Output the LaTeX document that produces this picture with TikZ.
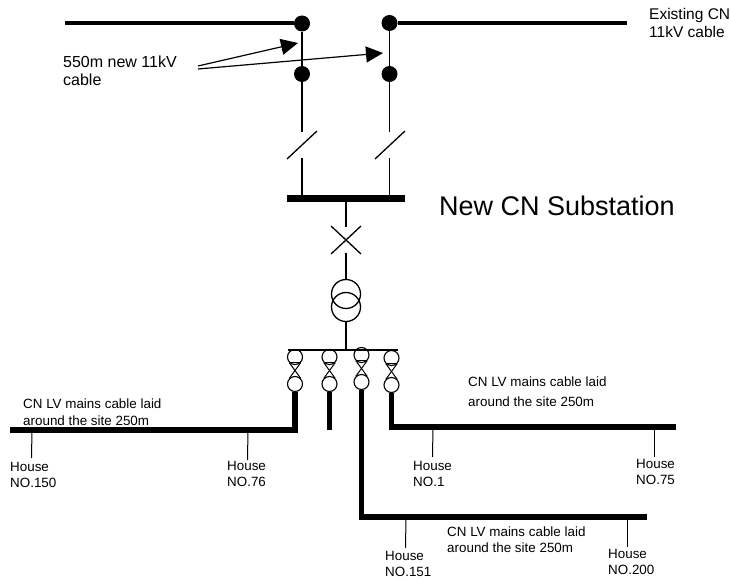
\documentclass[tikz,border=0pt]{standalone}
\usepackage{fontspec}
\setmainfont{Liberation Sans}
\usepackage{tikz}
\usetikzlibrary{arrows.meta,positioning}
\tikzset{
	junction/.style={circle,fill=black,inner sep=0pt,minimum size=16pt},
	fuseend/.style={circle,draw=black,line width=1.1pt,fill=white,inner sep=0pt,minimum size=15pt},
	winding/.style={circle,draw=black,line width=1.3pt,inner sep=0pt,minimum size=29pt},
	note/.style={align=left,inner sep=0pt,anchor=west,font=\fontsize{13.4}{16}\selectfont},
	wire/.style={draw,line width=1.3pt},
	drop/.style={draw,line width=1pt},
	hvline/.style={draw,line width=4pt},
	mains/.style={draw,line width=5.5pt},
	bar/.style={draw,line width=7pt},
	pointer/.style={draw,line width=1.2pt,-{Triangle[length=17pt,width=16pt]}}
}
\begin{document}
\begin{tikzpicture}[x=1pt,y=-1pt]
\useasboundingbox (0,0) rectangle (731,580);
% 11kV side
\node[junction](J1) at (302,23.5){};
\node[junction](J2) at (389.5,23){};
\node[junction](J3) at (302,74){};
\node[junction](J4) at (389.5,74){};
\coordinate (HVL) at (65,23.5);
\coordinate (HVR) at (627,23);
\path[hvline] (HVL) -- (J1);
\path[hvline] (J2) -- (HVR);
\path[wire] (J1) -- (J3);
\path[wire] (J2) -- (J4);
% switches
\coordinate (S1T) at (302,132);
\coordinate (S1B) at (302,158);
\coordinate (S2T) at (389.5,132);
\coordinate (S2B) at (389.5,158);
\coordinate (B1) at (302,199);
\coordinate (B2) at (389.5,199);
\coordinate (D1) at (287,159);
\coordinate (D2) at (317,131);
\coordinate (D3) at (375,159);
\coordinate (D4) at (405,131);
\path[wire] (J3) -- (S1T);
\path[wire] (J4) -- (S2T);
\path[wire] (D1) -- (D2);
\path[wire] (D3) -- (D4);
\path[wire] (S1B) -- (B1);
\path[wire] (S2B) -- (B2);
% busbar
\coordinate (BL) at (287,199);
\coordinate (BR) at (405,199);
\path[bar] (BL) -- (BR);
% breaker
\coordinate (BM) at (346,199);
\coordinate (X1) at (346,227);
\coordinate (X2) at (346,253);
\coordinate (C1) at (331,226);
\coordinate (C2) at (361,254);
\coordinate (C3) at (361,226);
\coordinate (C4) at (331,254);
\path[wire] (BM) -- (X1);
\path[wire] (C1) -- (C2);
\path[wire] (C3) -- (C4);
% transformer
\node[winding](T1) at (346,294){};
\node[winding](T2) at (346,307){};
\coordinate (LM) at (346,350);
\path[wire] (X2) -- (T1);
\path[wire] (T2) -- (LM);
% LV board
\coordinate (LL) at (288,350);
\coordinate (LR) at (398,350);
\foreach \name/\x/\ya/\yb in {A/295/357/384,B/329.5/357/384,C/361.5/355/382,E/391.5/358/385}{
	\node[fuseend](\name1) at (\x,\ya){};
	\node[fuseend](\name2) at (\x,\yb){};
	\path[drop] (\name1.south west) -- (\name2.north east);
	\path[drop] (\name1.south east) -- (\name2.north west);
	\path[drop] (\name1.south west) -- (\name1.south east);
}
\path[draw,line width=2pt] (LL) -- (LR);
% LV mains
\coordinate (M1) at (295,430);
\coordinate (M1E) at (10,430);
\coordinate (M2) at (329.5,430);
\coordinate (M3) at (361.5,517);
\coordinate (M3E) at (647,517);
\coordinate (M4) at (391.5,427);
\coordinate (M4E) at (676,427);
\path[mains] (A2) -- (M1) -- (M1E);
\path[mains] (B2) -- (M2);
\path[mains] (C2) -- (M3) -- (M3E);
\path[mains] (E2) -- (M4) -- (M4E);
% houses
\node[note](H150) at (10,475){House\\NO.150};
\node[note](H76) at (227,474){House\\NO.76};
\node[note](H1) at (413,473.5){House\\NO.1};
\node[note](H75) at (636,471.5){House\\NO.75};
\node[note](H151) at (385,564){House\\NO.151};
\node[note](H200) at (608,561.5){House\\NO.200};
\coordinate (T150) at (32,430);
\coordinate (T76) at (248,430);
\coordinate (T1a) at (433,427);
\coordinate (T75) at (654,427);
\coordinate (T151) at (406,517);
\coordinate (T200) at (627,517);
\coordinate (E150) at (31.5,458);
\coordinate (E76) at (247.5,460);
\coordinate (E1) at (432.5,457);
\coordinate (E75) at (654,457);
\coordinate (E151) at (405.5,548);
\coordinate (E200) at (627,547);
\path[drop] (T150) -- (E150);
\path[drop] (T76) -- (E76);
\path[drop] (T1a) -- (E1);
\path[drop] (T75) -- (E75);
\path[drop] (T151) -- (E151);
\path[drop] (T200) -- (E200);
% texts
\node[note,font=\fontsize{13.4}{17.5}\selectfont](CableL) at (23,412){CN LV mains cable laid\\around the site 250m};
\node[note,font=\fontsize{13.4}{20}\selectfont](CableR) at (468,392){CN LV mains cable laid\\around the site 250m};
\node[note](CableB) at (447,540){CN LV mains cable laid\\around the site 250m};
\node[note,font=\fontsize{16}{18}\selectfont](New) at (63,71){550m new 11kV\\cable};
\node[note,font=\fontsize{15.5}{18}\selectfont](Old) at (649,23){Existing CN\\11kV cable};
\node[note,font=\fontsize{27}{30}\selectfont](Sub) at (439,206){New CN Substation};
% pointers
\coordinate (P1) at (198,66);
\coordinate (P2) at (198,69);
\coordinate (P1E) at (298,43);
\coordinate (P2E) at (383,53);
\path[pointer] (P1) -- (P1E);
\path[pointer] (P2) -- (P2E);
\end{tikzpicture}
\end{document}
